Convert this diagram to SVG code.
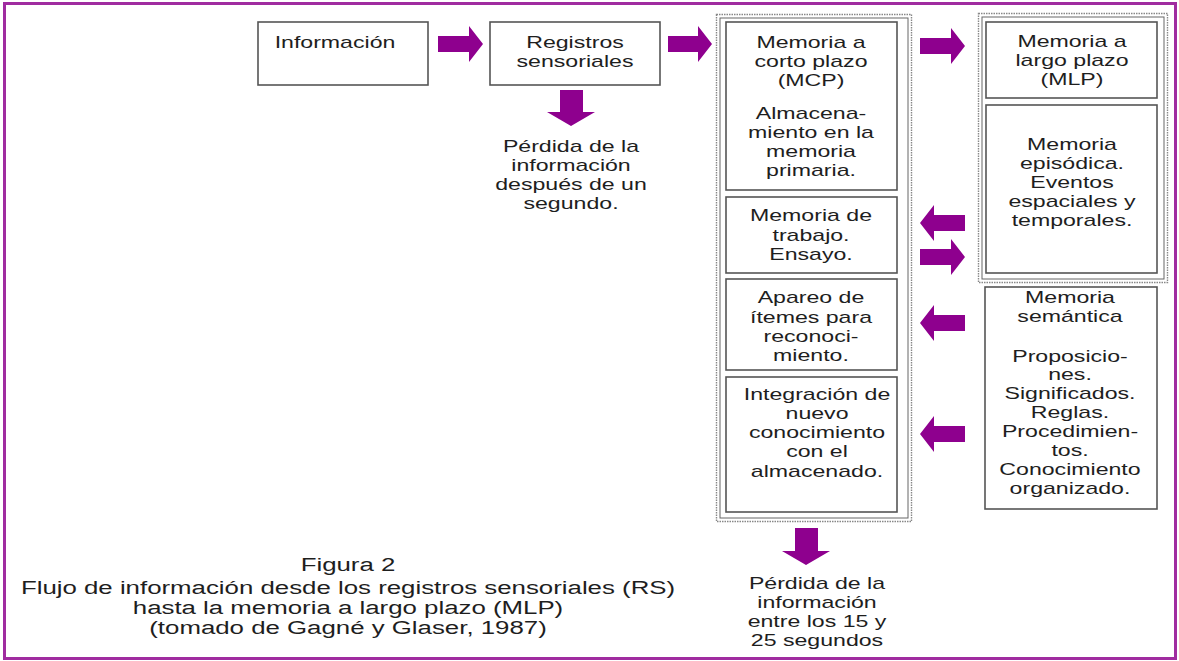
<svg xmlns="http://www.w3.org/2000/svg" width="1179" height="661" viewBox="0 0 1179 661">
<style>
.t{font-family:"Liberation Sans",Arial,sans-serif;font-size:17px;fill:#1e1e1e;text-anchor:middle}
.cap{font-family:"Liberation Sans",Arial,sans-serif;font-size:19px;fill:#1e1e1e;text-anchor:middle}
.box{fill:#fff;stroke:#555;stroke-width:1.6}
.dot{fill:none;stroke:#888;stroke-width:1.4;stroke-dasharray:1.5 1}
.arr{fill:#8e008e}
</style>
<rect x="0" y="0" width="1179" height="661" fill="#fff"/>
<rect x="4.5" y="3.5" width="1171" height="655" fill="none" stroke="#a02ca0" stroke-width="3"/>

<g id="informacion">
<rect class="box" x="258" y="22" width="170" height="63"/>
<g transform="translate(335 0) scale(1.36 1)"><text class="t" x="0" y="48">Información</text></g>
</g>

<g id="registros">
<rect class="box" x="490" y="22" width="170" height="63"/>
<g transform="translate(575 0) scale(1.36 1)"><text class="t" x="0" y="48">Registros</text><text class="t" x="0" y="67">sensoriales</text></g>
</g>

<g id="perdida1">
<g transform="translate(571 0) scale(1.36 1)"><text class="t" x="0" y="152">Pérdida de la</text><text class="t" x="0" y="171">información</text><text class="t" x="0" y="190">después de un</text><text class="t" x="0" y="209">segundo.</text></g>
</g>

<g id="mcp">
<rect class="dot" x="716.5" y="14.5" width="195" height="507"/>
<rect fill="none" stroke="#666" stroke-width="1" x="720" y="18" width="188" height="500"/>
<rect class="box" x="726" y="22" width="171" height="168"/>
<g transform="translate(811 0) scale(1.36 1)"><text class="t" x="0" y="48">Memoria a</text><text class="t" x="0" y="67">corto plazo</text><text class="t" x="0" y="86">(MCP)</text><text class="t" x="0" y="119">Almacena-</text><text class="t" x="0" y="138">miento en la</text><text class="t" x="0" y="157">memoria</text><text class="t" x="0" y="176">primaria.</text></g>
</g>

<g id="trabajo">
<rect class="box" x="726" y="197" width="171" height="76"/>
<g transform="translate(811 0) scale(1.36 1)"><text class="t" x="0" y="221">Memoria de</text><text class="t" x="0" y="241">trabajo.</text><text class="t" x="0" y="260">Ensayo.</text></g>
</g>

<g id="apareo">
<rect class="box" x="726" y="279" width="171" height="91"/>
<g transform="translate(811 0) scale(1.36 1)"><text class="t" x="0" y="303">Apareo de</text><text class="t" x="0" y="323">ítemes para</text><text class="t" x="0" y="342">reconoci-</text><text class="t" x="0" y="361">miento.</text></g>
</g>

<g id="integracion">
<rect class="box" x="726" y="377" width="171" height="135"/>
<g transform="translate(817 0) scale(1.36 1)"><text class="t" x="0" y="400">Integración de</text><text class="t" x="0" y="419">nuevo</text><text class="t" x="0" y="438">conocimiento</text><text class="t" x="0" y="457">con el</text><text class="t" x="0" y="477">almacenado.</text></g>
</g>

<g id="perdida2">
<g transform="translate(817 0) scale(1.36 1)"><text class="t" x="0" y="589">Pérdida de la</text><text class="t" x="0" y="608">información</text><text class="t" x="0" y="627">entre los 15 y</text><text class="t" x="0" y="646">25 segundos</text></g>
</g>

<g id="mlp">
<rect class="dot" x="978.5" y="13.5" width="189" height="269"/>
<rect fill="none" stroke="#666" stroke-width="1" x="982" y="17" width="182" height="262"/>
<rect class="box" x="986" y="22" width="171" height="76"/>
<g transform="translate(1072 0) scale(1.36 1)"><text class="t" x="0" y="47">Memoria a</text><text class="t" x="0" y="66">largo plazo</text><text class="t" x="0" y="85">(MLP)</text></g>
</g>

<g id="episodica">
<rect class="box" x="986" y="105" width="171" height="168"/>
<g transform="translate(1072 0) scale(1.36 1)"><text class="t" x="0" y="150">Memoria</text><text class="t" x="0" y="169">episódica.</text><text class="t" x="0" y="188">Eventos</text><text class="t" x="0" y="207">espaciales y</text><text class="t" x="0" y="226">temporales.</text></g>
</g>

<g id="semantica">
<rect class="box" x="985" y="287" width="172" height="222"/>
<g transform="translate(1070 0) scale(1.36 1)"><text class="t" x="0" y="303">Memoria</text><text class="t" x="0" y="322">semántica</text><text class="t" x="0" y="362">Proposicio-</text><text class="t" x="0" y="380">nes.</text><text class="t" x="0" y="399">Significados.</text><text class="t" x="0" y="418">Reglas.</text><text class="t" x="0" y="437">Procedimien-</text><text class="t" x="0" y="456">tos.</text><text class="t" x="0" y="475">Conocimiento</text><text class="t" x="0" y="494">organizado.</text></g>
</g>

<g id="caption">
<g transform="translate(348 0) scale(1.36 1)"><text class="cap" x="0" y="571">Figura 2</text><text class="cap" x="0" y="594">Flujo de información desde los registros sensoriales (RS)</text><text class="cap" x="0" y="614">hasta la memoria a largo plazo (MLP)</text><text class="cap" x="0" y="634">(tomado de Gagné y Glaser, 1987)</text></g>
</g>

<g id="connectors">
<polygon class="arr" points="438,36 469,36 469,26 483,44 469,62 469,52 438,52"/>
<polygon class="arr" points="668,36 698,36 698,26 712,44 698,62 698,52 668,52"/>
<polygon class="arr" points="920,38 951,38 951,28 965,46 951,64 951,54 920,54"/>
<polygon class="arr" points="920,249 951,249 951,239 965,257 951,275 951,265 920,265"/>
<polygon class="arr" points="965,215 934,215 934,205 920,223 934,241 934,231 965,231"/>
<polygon class="arr" points="965,315 934,315 934,305 920,323 934,341 934,331 965,331"/>
<polygon class="arr" points="965,426 934,426 934,416 920,434 934,452 934,442 965,442"/>
<polygon class="arr" points="560,90 583,90 583,112 595,112 571,126 547,112 560,112"/>
<polygon class="arr" points="795,528 818,528 818,551 830,551 806,565 782,551 795,551"/>
</g>
</svg>
